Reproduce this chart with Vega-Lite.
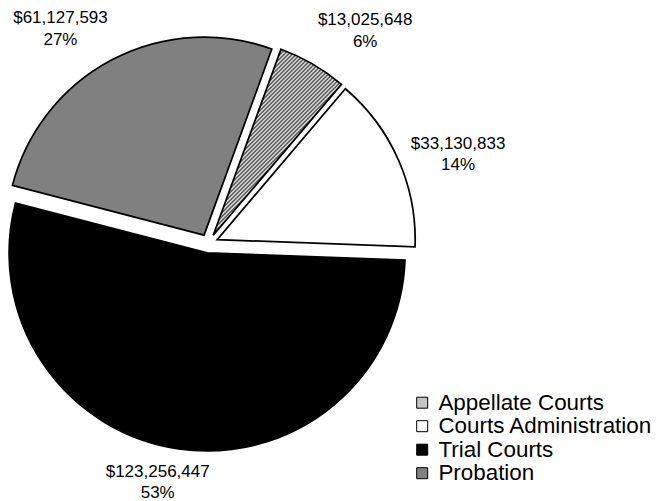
{
  "$schema": "https://vega.github.io/schema/vega-lite/v6.json",
  "width": 417,
  "height": 487,
  "autosize": {"type": "none"},
  "padding": {"left": 0, "top": 0, "right": 243, "bottom": 14},
  "background": "white",
  "config": {"view": {"stroke": null}, "font": "Liberation Sans"},
  "data": {"values": [
    {"category": "Appellate Courts", "amount": 13025648, "order": 1},
    {"category": "Courts Administration", "amount": 33130833, "order": 2},
    {"category": "Trial Courts", "amount": 123256447, "order": 3},
    {"category": "Probation", "amount": 61127593, "order": 4}
  ]},
  "transform": [
    {"stack": "amount", "groupby": [], "sort": [{"field": "order"}], "offset": "normalize", "as": ["t0", "t1"]},
    {"calculate": "(datum.t0 + datum.t1) / 2", "as": "tm"},
    {"calculate": "['$' + format(datum.amount, ','), format(datum.t1 - datum.t0, '.0%')]", "as": "lbl"}
  ],
  "layer": [
    {
      "transform": [{"filter": "datum.category === 'Appellate Courts'"}],
      "layer": [
        {
          "mark": {"type": "arc", "radius": 198, "stroke": "black", "strokeWidth": 1.75, "xOffset": 4.77, "yOffset": -8.21,
            "fill": {"gradient": "linear", "x1": 0, "y1": 0, "x2": 0.8035, "y2": 1.1664, "stops": [
              {"offset": 0, "color": "#333"}, {"offset": 0.00625, "color": "#fff"}, {"offset": 0.0125, "color": "#333"}, {"offset": 0.01875, "color": "#fff"}, {"offset": 0.025, "color": "#333"}, {"offset": 0.03125, "color": "#fff"}, {"offset": 0.0375, "color": "#333"}, {"offset": 0.04375, "color": "#fff"}, {"offset": 0.05, "color": "#333"}, {"offset": 0.05625, "color": "#fff"}, {"offset": 0.0625, "color": "#333"}, {"offset": 0.06875, "color": "#fff"}, {"offset": 0.075, "color": "#333"}, {"offset": 0.08125, "color": "#fff"}, {"offset": 0.0875, "color": "#333"}, {"offset": 0.09375, "color": "#fff"},
              {"offset": 0.1, "color": "#333"}, {"offset": 0.10625, "color": "#fff"}, {"offset": 0.1125, "color": "#333"}, {"offset": 0.11875, "color": "#fff"}, {"offset": 0.125, "color": "#333"}, {"offset": 0.13125, "color": "#fff"}, {"offset": 0.1375, "color": "#333"}, {"offset": 0.14375, "color": "#fff"}, {"offset": 0.15, "color": "#333"}, {"offset": 0.15625, "color": "#fff"}, {"offset": 0.1625, "color": "#333"}, {"offset": 0.16875, "color": "#fff"}, {"offset": 0.175, "color": "#333"}, {"offset": 0.18125, "color": "#fff"}, {"offset": 0.1875, "color": "#333"}, {"offset": 0.19375, "color": "#fff"},
              {"offset": 0.2, "color": "#333"}, {"offset": 0.20625, "color": "#fff"}, {"offset": 0.2125, "color": "#333"}, {"offset": 0.21875, "color": "#fff"}, {"offset": 0.225, "color": "#333"}, {"offset": 0.23125, "color": "#fff"}, {"offset": 0.2375, "color": "#333"}, {"offset": 0.24375, "color": "#fff"}, {"offset": 0.25, "color": "#333"}, {"offset": 0.25625, "color": "#fff"}, {"offset": 0.2625, "color": "#333"}, {"offset": 0.26875, "color": "#fff"}, {"offset": 0.275, "color": "#333"}, {"offset": 0.28125, "color": "#fff"}, {"offset": 0.2875, "color": "#333"}, {"offset": 0.29375, "color": "#fff"},
              {"offset": 0.3, "color": "#333"}, {"offset": 0.30625, "color": "#fff"}, {"offset": 0.3125, "color": "#333"}, {"offset": 0.31875, "color": "#fff"}, {"offset": 0.325, "color": "#333"}, {"offset": 0.33125, "color": "#fff"}, {"offset": 0.3375, "color": "#333"}, {"offset": 0.34375, "color": "#fff"}, {"offset": 0.35, "color": "#333"}, {"offset": 0.35625, "color": "#fff"}, {"offset": 0.3625, "color": "#333"}, {"offset": 0.36875, "color": "#fff"}, {"offset": 0.375, "color": "#333"}, {"offset": 0.38125, "color": "#fff"}, {"offset": 0.3875, "color": "#333"}, {"offset": 0.39375, "color": "#fff"},
              {"offset": 0.4, "color": "#333"}, {"offset": 0.40625, "color": "#fff"}, {"offset": 0.4125, "color": "#333"}, {"offset": 0.41875, "color": "#fff"}, {"offset": 0.425, "color": "#333"}, {"offset": 0.43125, "color": "#fff"}, {"offset": 0.4375, "color": "#333"}, {"offset": 0.44375, "color": "#fff"}, {"offset": 0.45, "color": "#333"}, {"offset": 0.45625, "color": "#fff"}, {"offset": 0.4625, "color": "#333"}, {"offset": 0.46875, "color": "#fff"}, {"offset": 0.475, "color": "#333"}, {"offset": 0.48125, "color": "#fff"}, {"offset": 0.4875, "color": "#333"}, {"offset": 0.49375, "color": "#fff"},
              {"offset": 0.5, "color": "#333"}, {"offset": 0.50625, "color": "#fff"}, {"offset": 0.5125, "color": "#333"}, {"offset": 0.51875, "color": "#fff"}, {"offset": 0.525, "color": "#333"}, {"offset": 0.53125, "color": "#fff"}, {"offset": 0.5375, "color": "#333"}, {"offset": 0.54375, "color": "#fff"}, {"offset": 0.55, "color": "#333"}, {"offset": 0.55625, "color": "#fff"}, {"offset": 0.5625, "color": "#333"}, {"offset": 0.56875, "color": "#fff"}, {"offset": 0.575, "color": "#333"}, {"offset": 0.58125, "color": "#fff"}, {"offset": 0.5875, "color": "#333"}, {"offset": 0.59375, "color": "#fff"},
              {"offset": 0.6, "color": "#333"}, {"offset": 0.60625, "color": "#fff"}, {"offset": 0.6125, "color": "#333"}, {"offset": 0.61875, "color": "#fff"}, {"offset": 0.625, "color": "#333"}, {"offset": 0.63125, "color": "#fff"}, {"offset": 0.6375, "color": "#333"}, {"offset": 0.64375, "color": "#fff"}, {"offset": 0.65, "color": "#333"}, {"offset": 0.65625, "color": "#fff"}, {"offset": 0.6625, "color": "#333"}, {"offset": 0.66875, "color": "#fff"}, {"offset": 0.675, "color": "#333"}, {"offset": 0.68125, "color": "#fff"}, {"offset": 0.6875, "color": "#333"}, {"offset": 0.69375, "color": "#fff"},
              {"offset": 0.7, "color": "#333"}, {"offset": 0.70625, "color": "#fff"}, {"offset": 0.7125, "color": "#333"}, {"offset": 0.71875, "color": "#fff"}, {"offset": 0.725, "color": "#333"}, {"offset": 0.73125, "color": "#fff"}, {"offset": 0.7375, "color": "#333"}, {"offset": 0.74375, "color": "#fff"}, {"offset": 0.75, "color": "#333"}, {"offset": 0.75625, "color": "#fff"}, {"offset": 0.7625, "color": "#333"}, {"offset": 0.76875, "color": "#fff"}, {"offset": 0.775, "color": "#333"}, {"offset": 0.78125, "color": "#fff"}, {"offset": 0.7875, "color": "#333"}, {"offset": 0.79375, "color": "#fff"},
              {"offset": 0.8, "color": "#333"}, {"offset": 0.80625, "color": "#fff"}, {"offset": 0.8125, "color": "#333"}, {"offset": 0.81875, "color": "#fff"}, {"offset": 0.825, "color": "#333"}, {"offset": 0.83125, "color": "#fff"}, {"offset": 0.8375, "color": "#333"}, {"offset": 0.84375, "color": "#fff"}, {"offset": 0.85, "color": "#333"}, {"offset": 0.85625, "color": "#fff"}, {"offset": 0.8625, "color": "#333"}, {"offset": 0.86875, "color": "#fff"}, {"offset": 0.875, "color": "#333"}, {"offset": 0.88125, "color": "#fff"}, {"offset": 0.8875, "color": "#333"}, {"offset": 0.89375, "color": "#fff"},
              {"offset": 0.9, "color": "#333"}, {"offset": 0.90625, "color": "#fff"}, {"offset": 0.9125, "color": "#333"}, {"offset": 0.91875, "color": "#fff"}, {"offset": 0.925, "color": "#333"}, {"offset": 0.93125, "color": "#fff"}, {"offset": 0.9375, "color": "#333"}, {"offset": 0.94375, "color": "#fff"}, {"offset": 0.95, "color": "#333"}, {"offset": 0.95625, "color": "#fff"}, {"offset": 0.9625, "color": "#333"}, {"offset": 0.96875, "color": "#fff"}, {"offset": 0.975, "color": "#333"}, {"offset": 0.98125, "color": "#fff"}, {"offset": 0.9875, "color": "#333"}, {"offset": 0.99375, "color": "#fff"},
              {"offset": 1, "color": "#333"}
            ]}
          },
          "encoding": {
            "theta": {"field": "t0", "type": "quantitative", "scale": {"domain": [0, 1], "range": [0.3491, 6.6323]}},
            "theta2": {"field": "t1"}
          }
        },
        {
          "mark": {"type": "text", "radius": 258, "dx": 27, "dy": 0, "align": "center", "baseline": "middle", "fontSize": 17, "lineHeight": 21.5, "color": "black"},
          "encoding": {
            "theta": {"field": "tm", "type": "quantitative", "scale": {"domain": [0, 1], "range": [0.3491, 6.6323]}},
            "text": {"field": "lbl", "type": "nominal"}
          }
        }
      ]
    },
    {
      "transform": [{"filter": "datum.category === 'Courts Administration'"}],
      "layer": [
        {
          "mark": {"type": "arc", "radius": 198, "stroke": "black", "strokeWidth": 1.75, "xOffset": 8.68, "yOffset": -3.86},
          "encoding": {
            "theta": {"field": "t0", "type": "quantitative", "scale": {"domain": [0, 1], "range": [0.3491, 6.6323]}},
            "theta2": {"field": "t1"},
            "fill": {"field": "category", "type": "nominal", "title": null,
              "scale": {"domain": ["Appellate Courts", "Courts Administration", "Trial Courts", "Probation"],
                "range": ["#c4c4c4", "#ffffff", "#000000", "#808080"]},
              "legend": {"orient": "none", "legendX": 411, "legendY": 391.5, "symbolType": "square", "symbolSize": 121, "symbolStrokeColor": "black", "symbolStrokeWidth": 1, "symbolOpacity": 1, "labelFontSize": 22.4, "labelFont": "Liberation Sans", "labelColor": "black", "labelOffset": 5, "rowPadding": 0.5, "padding": 0, "labelLimit": 400,
                "encode": {"symbols": {"update": {"stroke": {"value": "black"}, "strokeWidth": {"value": 1}}}}}
            }
          }
        },
        {
          "mark": {"type": "text", "radius": 258, "dx": 13.5, "dy": 4.5, "align": "center", "baseline": "middle", "fontSize": 17, "lineHeight": 21.5, "color": "black"},
          "encoding": {
            "theta": {"field": "tm", "type": "quantitative", "scale": {"domain": [0, 1], "range": [0.3491, 6.6323]}},
            "text": {"field": "lbl", "type": "nominal"}
          }
        }
      ]
    },
    {
      "transform": [{"filter": "datum.category === 'Trial Courts'"}],
      "layer": [
        {
          "mark": {"type": "arc", "radius": 198, "stroke": "black", "strokeWidth": 1.75, "xOffset": -1.39, "yOffset": 9.4},
          "encoding": {
            "theta": {"field": "t0", "type": "quantitative", "scale": {"domain": [0, 1], "range": [0.3491, 6.6323]}},
            "theta2": {"field": "t1"},
            "fill": {"field": "category", "type": "nominal", "title": null,
              "legend": {"orient": "none", "legendX": 411, "legendY": 391.5, "symbolType": "square", "symbolSize": 121, "symbolStrokeColor": "black", "symbolStrokeWidth": 1, "symbolOpacity": 1, "labelFontSize": 22.4, "labelFont": "Liberation Sans", "labelColor": "black", "labelOffset": 5, "rowPadding": 0.5, "padding": 0, "labelLimit": 400,
                "encode": {"symbols": {"update": {"stroke": {"value": "black"}, "strokeWidth": {"value": 1}}}}}
            }
          }
        },
        {
          "mark": {"type": "text", "radius": 258, "dx": -13.5, "dy": -27, "align": "center", "baseline": "middle", "fontSize": 17, "lineHeight": 21.5, "color": "black"},
          "encoding": {
            "theta": {"field": "tm", "type": "quantitative", "scale": {"domain": [0, 1], "range": [0.3491, 6.6323]}},
            "text": {"field": "lbl", "type": "nominal"}
          }
        }
      ]
    },
    {
      "transform": [{"filter": "datum.category === 'Probation'"}],
      "layer": [
        {
          "mark": {"type": "arc", "radius": 198, "stroke": "black", "strokeWidth": 1.75, "xOffset": -4.43, "yOffset": -8.4},
          "encoding": {
            "theta": {"field": "t0", "type": "quantitative", "scale": {"domain": [0, 1], "range": [0.3491, 6.6323]}},
            "theta2": {"field": "t1"},
            "fill": {"field": "category", "type": "nominal", "title": null,
              "legend": {"orient": "none", "legendX": 411, "legendY": 391.5, "symbolType": "square", "symbolSize": 121, "symbolStrokeColor": "black", "symbolStrokeWidth": 1, "symbolOpacity": 1, "labelFontSize": 22.4, "labelFont": "Liberation Sans", "labelColor": "black", "labelOffset": 5, "rowPadding": 0.5, "padding": 0, "labelLimit": 400,
                "encode": {"symbols": {"update": {"stroke": {"value": "black"}, "strokeWidth": {"value": 1}}}}}
            }
          }
        },
        {
          "mark": {"type": "text", "radius": 258, "dx": -28, "dy": 3, "align": "center", "baseline": "middle", "fontSize": 17, "lineHeight": 21.5, "color": "black"},
          "encoding": {
            "theta": {"field": "tm", "type": "quantitative", "scale": {"domain": [0, 1], "range": [0.3491, 6.6323]}},
            "text": {"field": "lbl", "type": "nominal"}
          }
        }
      ]
    }
  ]
}
